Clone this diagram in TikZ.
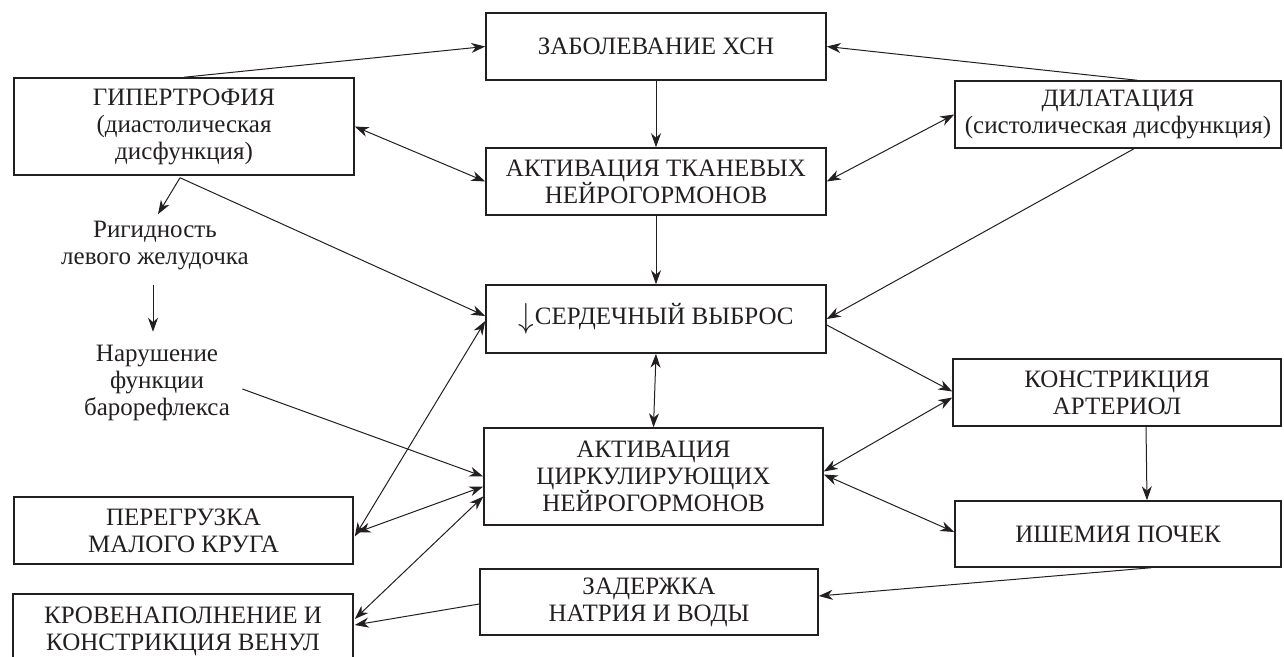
\documentclass[tikz,border=0pt]{standalone}
\usepackage{graphicx}
\usepackage{fontspec}
\setmainfont{Liberation Serif}
\usetikzlibrary{arrows.meta,calc}
\definecolor{ink}{HTML}{231F20}
\begin{document}
\begin{tikzpicture}[x=0.5pt,y=-0.5pt,
  every node/.style={text=ink},
  box/.style={draw=ink, line width=0.75pt, align=center, inner sep=0pt, font=\fontsize{12.5}{13.5}\selectfont},
  txt/.style={align=center, inner sep=3pt, font=\fontsize{12.5}{13.5}\selectfont},
  tip/.tip={Stealth[length=7pt,width=5pt,inset=2.2pt]},
  conn/.style={draw=ink, line width=0.5pt, -tip},
  biconn/.style={draw=ink, line width=0.5pt, tip-tip}]
\useasboundingbox (0,0) rectangle (1284,657);

% boxes
\node[box, minimum width=170pt, minimum height=33.5pt] (zab) at (656,46.5) {ЗАБОЛЕВАНИЕ ХСН};
\node[box, minimum width=170pt, minimum height=33.5pt] (tkan) at (656,181.5) {АКТИВАЦИЯ ТКАНЕВЫХ\\НЕЙРОГОРМОНОВ};
\node[box, minimum width=170pt, minimum height=34pt] (serd) at (656,319) {\raisebox{-0.12em}{\scalebox{1.3}[1.45]{$\downarrow$}}\kern0.5pt СЕРДЕЧНЫЙ ВЫБРОС};
\node[box, minimum width=169.5pt, minimum height=48.5pt] (cirk) at (653.5,476.5) {АКТИВАЦИЯ\\ЦИРКУЛИРУЮЩИХ\\НЕЙРОГОРМОНОВ};
\node[box, minimum width=169pt, minimum height=33pt] (zad) at (649,602) {ЗАДЕРЖКА\\НАТРИЯ И ВОДЫ};
\node[box, minimum width=163pt, minimum height=33.5pt] (dil) at (1118,114.5) {ДИЛАТАЦИЯ\\(систолическая дисфункция)};
\node[box, minimum width=164pt, minimum height=33.5pt] (konst) at (1117,392.5) {КОНСТРИКЦИЯ\\АРТЕРИОЛ};
\node[box, minimum width=163pt, minimum height=33pt] (ish) at (1118,534) {ИШЕМИЯ ПОЧЕК};
\node[box, minimum width=170pt, minimum height=48.5pt] (gip) at (184,126.5) {ГИПЕРТРОФИЯ\\(диастолическая\\дисфункция)};
\node[box, minimum width=169.5pt, minimum height=33.5pt] (pereg) at (183.5,530.5) {ПЕРЕГРУЗКА\\МАЛОГО КРУГА};
\node[box, minimum width=170pt, minimum height=37pt] (krov) at (183,631) {КРОВЕНАПОЛНЕНИЕ И\\КОНСТРИКЦИЯ ВЕНУЛ};

% free texts
\node[txt] (rig) at (155,246) {Ригидность\\левого желудочка};
\node[txt] (nar) at (157,383) {Нарушение\\функции\\барорефлекса};

% connectors
\draw[conn] (gip.north) -- (zab.west);
\draw[conn] ($(dil.north)+(19,0)$) -- (zab.east);
\draw[conn] (zab.south) -- (tkan.north);
\draw[biconn] (gip.east) -- (tkan.west);
\draw[biconn] (dil.west) -- (tkan.east);
\draw[conn] (tkan.south) -- (serd.north);
\draw[conn] ($(dil.south)+(16,0)$) -- (serd.east);
\draw[conn] ($(gip.south)+(-4,2)$) -- ($(rig.north)+(3,-1)$);
\draw[conn] ($(gip.south)+(-4,2)$) -- ($(serd.west)+(0,-3)$);
\draw[conn] ($(rig.south)+(-2,8)$) -- ($(nar.north)+(-4,-7)$);
\draw[conn] ($(nar.east)+(6,6)$) -- (cirk.west);
\draw[biconn] ($(pereg.east)+(1,6)$) -- ($(serd.west)+(0,2)$);
\draw[biconn] ($(pereg.east)+(3,2)$) -- ($(cirk.west)+(0,10)$);
\draw[biconn] ($(krov.east)+(1,-12)$) -- ($(cirk.west)+(0,20)$);
\draw[conn] ($(zad.west)+(0,2)$) -- ($(krov.east)+(1,-6)$);
\draw[biconn] (serd.south) -- (cirk.north);
\draw[conn] ($(serd.east)+(0,6)$) -- ($(konst.west)+(0,-1)$);
\draw[biconn] ($(konst.west)+(0,5)$) -- ($(cirk.east)+(0,-5)$);
\draw[biconn] ($(cirk.east)+(0,-2)$) -- ($(ish.west)+(0,-2)$);
\draw[conn] ($(konst.south)+(29,0)$) -- ($(ish.north)+(29,0)$);
\draw[conn] ($(ish.south)+(33,0)$) -- ($(zad.east)+(0,-6)$);
\end{tikzpicture}
\end{document}
